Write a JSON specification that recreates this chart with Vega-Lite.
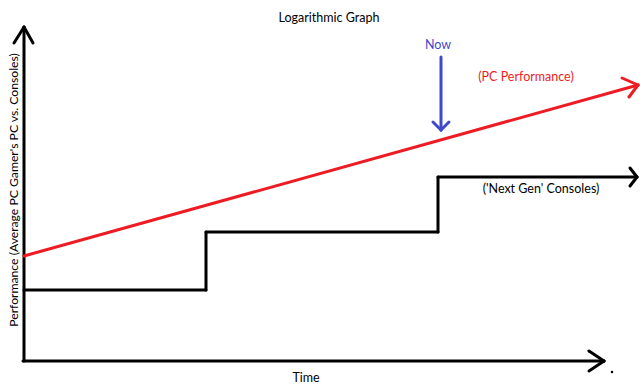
{
  "$schema": "https://vega.github.io/schema/vega-lite/v6.json",
  "width": 640,
  "height": 390,
  "autosize": {"type": "fit", "contains": "padding"},
  "padding": 0,
  "background": "white",
  "config": {"view": {"stroke": null}},
  "datasets": {
    "segments": [
      {"part": "axis", "x": 24, "y": 27, "x2": 24, "y2": 361},
      {"part": "axis", "x": 24, "y": 27, "x2": 14, "y2": 43},
      {"part": "axis", "x": 24, "y": 27, "x2": 33, "y2": 43},
      {"part": "axis", "x": 23, "y": 361, "x2": 604, "y2": 361},
      {"part": "axis", "x": 604, "y": 361, "x2": 589, "y2": 351},
      {"part": "axis", "x": 604, "y": 361, "x2": 589, "y2": 371},
      {"part": "pc", "x": 24, "y": 256, "x2": 638, "y2": 85},
      {"part": "pc", "x": 638, "y": 85, "x2": 622, "y2": 78},
      {"part": "pc", "x": 638, "y": 85, "x2": 629, "y2": 97},
      {"part": "console", "x": 24, "y": 290, "x2": 206, "y2": 290},
      {"part": "console", "x": 206, "y": 290, "x2": 206, "y2": 232},
      {"part": "console", "x": 206, "y": 232, "x2": 438, "y2": 232},
      {"part": "console", "x": 438, "y": 232, "x2": 438, "y2": 177},
      {"part": "console", "x": 438, "y": 177, "x2": 637, "y2": 177},
      {"part": "console", "x": 637, "y": 177, "x2": 630, "y2": 168},
      {"part": "console", "x": 637, "y": 177, "x2": 630, "y2": 186},
      {"part": "now", "x": 441, "y": 57, "x2": 441, "y2": 130},
      {"part": "now", "x": 441, "y": 130, "x2": 433, "y2": 122},
      {"part": "now", "x": 441, "y": 130, "x2": 449, "y2": 122}
    ],
    "labels": [
      {"part": "axis", "label": "Logarithmic Graph", "x": 329, "y": 18},
      {"part": "now", "label": "Now", "x": 438, "y": 45},
      {"part": "pc", "label": "(PC Performance)", "x": 526, "y": 77},
      {"part": "axis", "label": "('Next Gen' Consoles)", "x": 541, "y": 189},
      {"part": "axis", "label": "Time", "x": 306, "y": 378}
    ],
    "ylabel": [
      {"part": "axis", "label": "Performance  (Average PC Gamer's PC vs. Consoles)", "x": 14, "y": 190}
    ],
    "dots": [
      {"part": "axis", "x": 612, "y": 372}
    ]
  },
  "layer": [
    {
      "data": {"name": "segments"},
      "mark": {"type": "rule", "strokeWidth": 3, "strokeCap": "round"},
      "encoding": {
        "x": {"field": "x", "type": "quantitative", "scale": {"domain": [0, 640], "nice": false, "zero": false}, "axis": null},
        "y": {"field": "y", "type": "quantitative", "scale": {"domain": [0, 390], "nice": false, "zero": false, "reverse": true}, "axis": null},
        "x2": {"field": "x2"},
        "y2": {"field": "y2"},
        "color": {"field": "part", "type": "nominal", "scale": {"domain": ["axis", "pc", "console", "now"], "range": ["#000000", "#ed1c24", "#000000", "#3f48cc"]}, "legend": null}
      }
    },
    {
      "data": {"name": "labels"},
      "mark": {"type": "text", "font": "Lato", "fontSize": 12.5, "align": "center", "baseline": "middle"},
      "encoding": {
        "x": {"field": "x", "type": "quantitative", "scale": {"domain": [0, 640], "nice": false, "zero": false}, "axis": null},
        "y": {"field": "y", "type": "quantitative", "scale": {"domain": [0, 390], "nice": false, "zero": false, "reverse": true}, "axis": null},
        "text": {"field": "label"},
        "color": {"field": "part", "type": "nominal", "scale": {"domain": ["axis", "pc", "console", "now"], "range": ["#000000", "#ed1c24", "#000000", "#3f48cc"]}, "legend": null}
      }
    },
    {
      "data": {"name": "ylabel"},
      "mark": {"type": "text", "font": "Lato", "fontSize": 12.2, "align": "center", "baseline": "middle", "angle": 270},
      "encoding": {
        "x": {"field": "x", "type": "quantitative", "scale": {"domain": [0, 640], "nice": false, "zero": false}, "axis": null},
        "y": {"field": "y", "type": "quantitative", "scale": {"domain": [0, 390], "nice": false, "zero": false, "reverse": true}, "axis": null},
        "text": {"field": "label"},
        "color": {"value": "#000000"}
      }
    },
    {
      "data": {"name": "dots"},
      "mark": {"type": "point", "filled": true, "size": 6, "color": "#000000", "opacity": 1},
      "encoding": {
        "x": {"field": "x", "type": "quantitative", "scale": {"domain": [0, 640], "nice": false, "zero": false}, "axis": null},
        "y": {"field": "y", "type": "quantitative", "scale": {"domain": [0, 390], "nice": false, "zero": false, "reverse": true}, "axis": null}
      }
    }
  ]
}
